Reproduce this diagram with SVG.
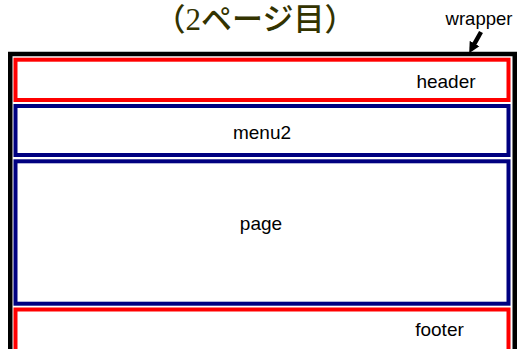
<svg xmlns="http://www.w3.org/2000/svg" width="518" height="349" viewBox="0 0 518 349">
<defs>
<style>
.box{fill:#ffffff;stroke-width:4}
.red{stroke:#ff0000}
.blue{stroke:#000080}
.lbl{font-family:"Liberation Sans",Arial,sans-serif;font-size:19px;fill:#000000;text-anchor:middle}
.title{font-family:"Liberation Serif","Noto Sans CJK JP",serif;font-size:31px;font-weight:500;fill:#333300;text-anchor:middle}
</style>
<marker id="ah" viewBox="0 0 10 10" refX="1" refY="5" markerWidth="11" markerHeight="12" markerUnits="userSpaceOnUse" orient="auto">
<path d="M0,0 L10,5 L0,10 z" fill="#000000"/>
</marker>
</defs>
<rect width="518" height="349" fill="#ffffff"/>
<text class="title" x="255" y="30">（2ページ目）</text>
<g id="wrapper">
<rect x="10.25" y="54" width="504.5" height="320" fill="#ffffff" stroke="#000000" stroke-width="4.5"/>
<text class="lbl" x="479" y="25" style="font-size:18.5px">wrapper</text>
</g>
<g id="header">
<rect class="box red" x="15.5" y="59.7" width="493" height="40.3"/>
<text class="lbl" x="446" y="88.3">header</text>
</g>
<g id="menu2">
<rect class="box blue" x="15.5" y="106" width="493" height="49"/>
<text class="lbl" x="262" y="139">menu2</text>
</g>
<g id="page">
<rect class="box blue" x="15.5" y="161.3" width="493" height="142.4"/>
<text class="lbl" x="261" y="229.5">page</text>
</g>
<g id="footer">
<rect class="box red" x="15.5" y="309.5" width="493" height="60"/>
<text class="lbl" x="439.5" y="335.5">footer</text>
</g>
<g id="connectors">
<line x1="481" y1="32" x2="474" y2="44.5" stroke="#000000" stroke-width="4.5" marker-end="url(#ah)"/>
</g>
</svg>
